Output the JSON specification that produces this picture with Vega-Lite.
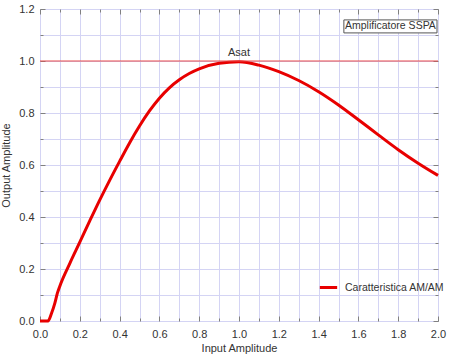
{
  "$schema": "https://vega.github.io/schema/vega-lite/v6.json",
  "autosize": {"type": "none"},
  "padding": {"left": 40, "top": 9, "right": 22, "bottom": 34},
  "width": 398,
  "height": 312,
  "background": "white",
  "config": {
    "font": "Liberation Sans",
    "view": {"stroke": "#808080", "strokeWidth": 1},
    "axis": {
      "labelFont": "Liberation Sans",
      "titleFont": "Liberation Sans",
      "labelFontSize": 11,
      "titleFontSize": 11,
      "titleFontWeight": "normal",
      "labelColor": "#333",
      "titleColor": "#333",
      "domainColor": "#808080",
      "tickColor": "#808080",
      "gridColor": "#d4d4f4",
      "gridOpacity": 1
    }
  },
  "datasets": {
    "curve": [
      {"x": 0.0, "y": 0.0, "s": "Caratteristica AM/AM"},
      {"x": 0.04, "y": 0.0, "s": "Caratteristica AM/AM"},
      {"x": 0.058, "y": 0.03, "s": "Caratteristica AM/AM"},
      {"x": 0.075, "y": 0.07, "s": "Caratteristica AM/AM"},
      {"x": 0.087, "y": 0.106, "s": "Caratteristica AM/AM"},
      {"x": 0.1, "y": 0.135, "s": "Caratteristica AM/AM"},
      {"x": 0.15, "y": 0.222, "s": "Caratteristica AM/AM"},
      {"x": 0.2, "y": 0.303, "s": "Caratteristica AM/AM"},
      {"x": 0.25, "y": 0.385, "s": "Caratteristica AM/AM"},
      {"x": 0.3, "y": 0.465, "s": "Caratteristica AM/AM"},
      {"x": 0.35, "y": 0.541, "s": "Caratteristica AM/AM"},
      {"x": 0.4, "y": 0.614, "s": "Caratteristica AM/AM"},
      {"x": 0.45, "y": 0.685, "s": "Caratteristica AM/AM"},
      {"x": 0.5, "y": 0.75, "s": "Caratteristica AM/AM"},
      {"x": 0.55, "y": 0.808, "s": "Caratteristica AM/AM"},
      {"x": 0.6, "y": 0.857, "s": "Caratteristica AM/AM"},
      {"x": 0.65, "y": 0.897, "s": "Caratteristica AM/AM"},
      {"x": 0.7, "y": 0.928, "s": "Caratteristica AM/AM"},
      {"x": 0.75, "y": 0.952, "s": "Caratteristica AM/AM"},
      {"x": 0.8, "y": 0.97, "s": "Caratteristica AM/AM"},
      {"x": 0.9, "y": 0.991, "s": "Caratteristica AM/AM"},
      {"x": 1.0, "y": 0.997, "s": "Caratteristica AM/AM"},
      {"x": 1.1, "y": 0.984, "s": "Caratteristica AM/AM"},
      {"x": 1.2, "y": 0.959, "s": "Caratteristica AM/AM"},
      {"x": 1.3, "y": 0.925, "s": "Caratteristica AM/AM"},
      {"x": 1.4, "y": 0.882, "s": "Caratteristica AM/AM"},
      {"x": 1.5, "y": 0.831, "s": "Caratteristica AM/AM"},
      {"x": 1.6, "y": 0.774, "s": "Caratteristica AM/AM"},
      {"x": 1.7, "y": 0.716, "s": "Caratteristica AM/AM"},
      {"x": 1.8, "y": 0.659, "s": "Caratteristica AM/AM"},
      {"x": 1.9, "y": 0.607, "s": "Caratteristica AM/AM"},
      {"x": 2.0, "y": 0.56, "s": "Caratteristica AM/AM"}
    ],
    "asat": [{"x": 1.0, "y": 1.0, "label": "Asat"}],
    "box": [{"x": 1.527, "x2": 1.995, "y": 1.108, "y2": 1.158, "xc": 1.761, "yc": 1.133, "label": "Amplificatore SSPA"}]
  },
  "layer": [
    {
      "data": {"name": "curve"},
      "mark": {"type": "line", "strokeWidth": 3, "interpolate": "monotone"},
      "encoding": {
        "x": {
          "field": "x", "type": "quantitative",
          "scale": {"domain": [0, 2], "nice": false, "zero": false},
          "axis": {
            "orient": "bottom",
            "title": "Input Amplitude",
            "titlePadding": 3,
            "values": [0,0.1,0.2,0.3,0.4,0.5,0.6,0.7,0.8,0.9,1.0,1.1,1.2,1.3,1.4,1.5,1.6,1.7,1.8,1.9,2.0],
            "labelExpr": "round(datum.value*10) % 2 === 0 ? format(datum.value, '.1f') : ''",
            "grid": true,
            "domain": false,
            "tickSize": {"condition": {"test": "round(datum.value*10) % 2 === 0", "value": -5}, "value": -3},
            "labelPadding": 12,
            "labelFlush": false
          }
        },
        "y": {
          "field": "y", "type": "quantitative",
          "scale": {"domain": [0, 1.2], "nice": false},
          "axis": {
            "orient": "left",
            "title": "Output Amplitude",
            "titlePadding": 7,
            "values": [0,0.1,0.2,0.3,0.4,0.5,0.6,0.7,0.8,0.9,1.0,1.1,1.2],
            "labelExpr": "round(datum.value*10) % 2 === 0 ? format(datum.value, '.1f') : ''",
            "grid": true,
            "domain": false,
            "tickSize": {"condition": {"test": "round(datum.value*10) % 2 === 0", "value": -5}, "value": -3},
            "labelPadding": 11,
            "labelFlush": false
          }
        },
        "color": {
          "field": "s", "type": "nominal",
          "scale": {"range": ["#e80000"]},
          "legend": {
            "title": null,
            "orient": "none",
            "legendX": 278,
            "legendY": 268,
            "symbolType": "stroke",
            "symbolStrokeWidth": 3,
            "symbolSize": 300,
            "labelFont": "Liberation Sans",
            "labelFontSize": 10.5,
            "labelColor": "#333",
            "labelOffset": 6
          }
        }
      }
    },
    {
      "data": {"name": "asat"},
      "mark": {"type": "rule", "color": "#e84848", "strokeWidth": 1},
      "encoding": {"y": {"field": "y", "type": "quantitative", "axis": null}}
    },
    {
      "data": {"name": "asat"},
      "mark": {"type": "text", "baseline": "bottom", "dy": -3, "fontSize": 11, "color": "#333", "font": "Liberation Sans"},
      "encoding": {
        "x": {
          "field": "x", "type": "quantitative",
          "axis": {
            "orient": "top", "title": null, "labels": false, "grid": false, "domain": false,
            "values": [0,0.1,0.2,0.3,0.4,0.5,0.6,0.7,0.8,0.9,1.0,1.1,1.2,1.3,1.4,1.5,1.6,1.7,1.8,1.9,2.0],
            "tickSize": {"condition": {"test": "round(datum.value*10) % 2 === 0", "value": -5}, "value": -3}
          }
        },
        "y": {
          "field": "y", "type": "quantitative",
          "axis": {
            "orient": "right", "title": null, "labels": false, "grid": false, "domain": false,
            "values": [0,0.1,0.2,0.3,0.4,0.5,0.6,0.7,0.8,0.9,1.0,1.1,1.2],
            "tickSize": {"condition": {"test": "round(datum.value*10) % 2 === 0", "value": -5}, "value": -3}
          }
        },
        "text": {"field": "label"}
      }
    },
    {
      "data": {"name": "box"},
      "mark": {"type": "rect", "fill": "white", "stroke": "#555", "strokeWidth": 1},
      "encoding": {
        "x": {"field": "x", "type": "quantitative", "axis": null},
        "x2": {"field": "x2"},
        "y": {"field": "y", "type": "quantitative", "axis": null},
        "y2": {"field": "y2"}
      }
    },
    {
      "data": {"name": "box"},
      "mark": {"type": "text", "fontSize": 10.5, "color": "#333", "font": "Liberation Sans"},
      "encoding": {
        "x": {"field": "xc", "type": "quantitative", "axis": null},
        "y": {"field": "yc", "type": "quantitative", "axis": null},
        "text": {"field": "label"}
      }
    }
  ],
  "resolve": {"axis": {"x": "independent", "y": "independent"}}
}
